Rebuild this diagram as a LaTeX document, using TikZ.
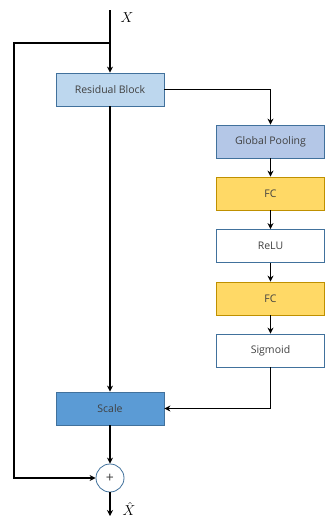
\documentclass[tikz,border=0pt]{standalone}
\usepackage{fontspec}
\setsansfont{Open Sans}
\usetikzlibrary{arrows.meta}
\definecolor{resfill}{HTML}{BDD7EE}
\definecolor{gpfill}{HTML}{B4C7E7}
\definecolor{fcfill}{HTML}{FFD966}
\definecolor{scfill}{HTML}{5B9BD5}
\definecolor{bord}{HTML}{41719C}
\definecolor{fcbord}{HTML}{BF9000}
\definecolor{txt}{HTML}{404040}
\tikzset{
  blk/.style={draw=bord, line width=0.8pt, minimum width=108pt, minimum height=33pt, inner sep=0pt, font=\sffamily\fontsize{10.5}{12}\selectfont, text=txt},
  fcblk/.style={blk, draw=fcbord, fill=fcfill},
  conn/.style={line width=1.4pt, -{Stealth[length=6pt,width=6pt]}}
}
\begin{document}
\begin{tikzpicture}[x=1pt,y=-1pt]
\useasboundingbox (0,0) rectangle (325,523);
\node[blk, fill=resfill] (res) at (110,89.5) {Residual Block};
\node[blk, fill=gpfill] (gp) at (270.5,141.5) {Global Pooling};
\node[fcblk] (fc1) at (270.5,193.5) {FC};
\node[blk, fill=white] (relu) at (270.5,246) {ReLU};
\node[fcblk] (fc2) at (270.5,298.5) {FC};
\node[blk, fill=white] (sig) at (270.5,350.5) {Sigmoid};
\node[blk, fill=scfill] (sc) at (110,408.5) {Scale};
\node[circle, draw=bord, line width=0.8pt, fill=white, minimum size=28pt, inner sep=0pt, font=\sffamily\fontsize{14}{14}\selectfont, text=txt] (plus) at (110,478) {+};
\coordinate (top) at (110,10);
\coordinate (br) at (110,43);
\coordinate (out) at (110,516);
\node[font=\fontsize{14}{16}\selectfont, anchor=west] (xlab) at (117,18) {$X$};
\node[font=\fontsize{14}{16}\selectfont, anchor=west] (xhat) at (119,509) {$\hat{X}$};
\draw[conn] (top) -- (res.north);
\draw[conn] (br) -- (14,43) |- (plus.west);
\draw[conn] (res.east) -| (gp.north);
\draw[conn] (gp) -- (fc1);
\draw[conn] (fc1) -- (relu);
\draw[conn] (relu) -- (fc2);
\draw[conn] (fc2) -- (sig);
\draw[conn] (sig.south) |- (sc.east);
\draw[conn] (res.south) -- (sc.north);
\draw[conn] (sc.south) -- (plus.north);
\draw[conn] (plus.south) -- (out);
\end{tikzpicture}
\end{document}
